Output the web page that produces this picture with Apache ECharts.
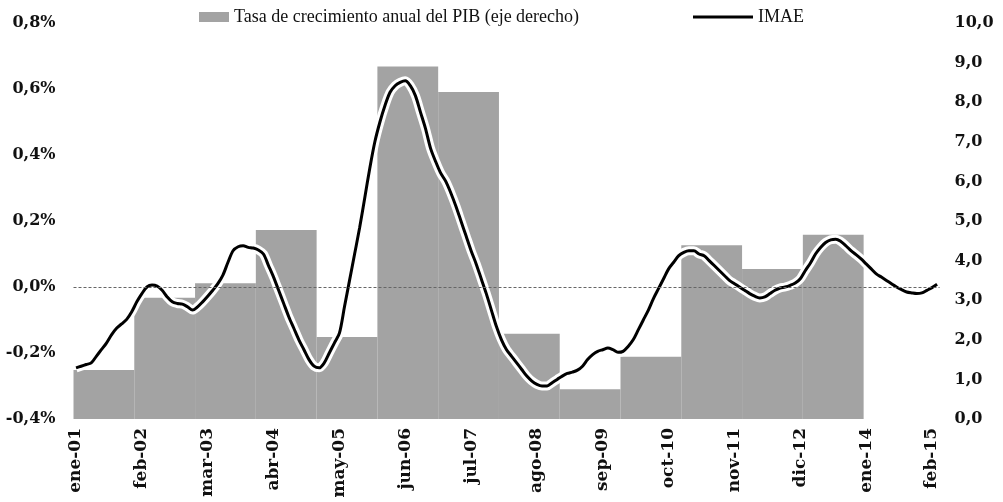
<!DOCTYPE html>
<html>
<head>
<meta charset="utf-8">
<script src="https://cdn.jsdelivr.net/npm/echarts@6/dist/echarts.min.js"></script>
<style>
html,body{margin:0;padding:0;background:#fff;}
#chart{width:1003px;height:502px;}
</style>
</head>
<body>
<div id="chart"></div>
<script>
// ---- data ----
const monthNames = ['ene','feb','mar','abr','may','jun','jul','ago','sep','oct','nov','dic'];
const firstYear = 2001;
const lastYear = 2015;
const lastMonthOfLastYear = 3; // mar-15

// IMAE (left axis, %), monthly from ene-01 to mar-15
const imae = [
 -0.245,-0.240,-0.235,-0.230,-0.210,-0.190,-0.170,-0.145,-0.125,-0.112,-0.098,-0.075,
 -0.045,-0.020, 0.000, 0.006, 0.003,-0.010,-0.030,-0.045,-0.050,-0.052,-0.060,-0.070,
 -0.060,-0.045,-0.028,-0.010, 0.010, 0.036, 0.075, 0.110, 0.122, 0.125, 0.120, 0.118,
  0.112, 0.100, 0.065, 0.030,-0.010,-0.050,-0.090,-0.125,-0.160,-0.190,-0.220,-0.240,
 -0.245,-0.230,-0.200,-0.170,-0.140,-0.060, 0.020, 0.100, 0.180, 0.270, 0.360, 0.440,
  0.500, 0.550, 0.590, 0.610, 0.620, 0.625, 0.610, 0.580, 0.530, 0.480, 0.420, 0.380,
  0.345, 0.320, 0.285, 0.245, 0.200, 0.155, 0.110, 0.070, 0.025,-0.020,-0.070,-0.120,
 -0.160,-0.190,-0.210,-0.230,-0.250,-0.270,-0.285,-0.295,-0.300,-0.300,-0.290,-0.280,
 -0.270,-0.262,-0.258,-0.252,-0.240,-0.220,-0.205,-0.195,-0.190,-0.185,-0.190,-0.198,
 -0.195,-0.180,-0.160,-0.130,-0.100,-0.070,-0.035,-0.005, 0.025, 0.055, 0.075, 0.095,
  0.105, 0.110, 0.110, 0.100, 0.095, 0.080, 0.065, 0.050, 0.035, 0.020, 0.010, 0.000,
 -0.010,-0.020,-0.028,-0.033,-0.030,-0.020,-0.010,-0.003, 0.000, 0.005, 0.012, 0.025,
  0.050, 0.073, 0.100, 0.120, 0.135, 0.143, 0.145, 0.138, 0.125, 0.110, 0.098, 0.085,
  0.070, 0.055, 0.040, 0.030, 0.020, 0.010, 0.000,-0.008,-0.015,-0.018,-0.020,-0.018,
 -0.010,-0.002, 0.008
];

// Annual GDP growth (right axis), one bar per year
const gdpYears  = [2001,2002,2003,2004,2005,2006,2007,2008,2009,2010,2011,2012,2013];
const gdpGrowth = [1.24,3.06,3.43,4.77,2.07,8.90,8.26,2.15,0.75,1.57,4.39,3.79,4.65];

const leftTicks  = {min:-0.4, max:0.8, interval:0.2};
const rightTicks = {min:0, max:10, interval:1};

const barName  = 'Tasa de crecimiento anual del PIB (eje derecho)';
const lineName = 'IMAE';

// ---- build tables ----
const categories = [];
for (let y = firstYear; y <= lastYear; y++) {
  const lastM = (y === lastYear) ? lastMonthOfLastYear : 12;
  for (let m = 0; m < lastM; m++) {
    categories.push(monthNames[m] + '-' + String(y % 100).padStart(2,'0'));
  }
}
const barData = gdpYears.map((y, k) => {
  const start = (y - firstYear) * 12;
  return [start, start + 11, gdpGrowth[k]];
});

const axisFont = {fontFamily:'DejaVu Serif', fontWeight:'bold', fontSize:16, color:'#111'};

function fmtLeft(v){
  if (Math.abs(v) < 1e-9) v = 0;
  return v.toFixed(1).replace('.', ',') + '%';
}
function fmtRight(v){
  return v.toFixed(1).replace('.', ',');
}

const barColor = '#a3a3a3';

const chart = echarts.init(document.getElementById('chart'), null, {renderer:'canvas'});
chart.setOption({
  animation:false,
  backgroundColor:'#ffffff',
  grid:{left:73.5, right:63.4, top:23, bottom:83, containLabel:false},
  legend:[
    {
      data:[{name:barName, icon:'rect'}],
      left:194, top:3,
      itemWidth:30, itemHeight:10,
      textStyle:{fontFamily:'Liberation Serif', fontSize:18, color:'#111'}
    },
    {
      data:[{name:lineName, icon:'rect', itemStyle:{color:'#000'}}],
      left:688, top:3,
      itemWidth:60, itemHeight:3,
      textStyle:{fontFamily:'Liberation Serif', fontSize:18, color:'#111'}
    }
  ],
  xAxis:{
    type:'category',
    data:categories,
    boundaryGap:true,
    axisLine:{show:false},
    axisTick:{show:false},
    splitLine:{show:false},
    axisLabel:Object.assign({interval:12, rotate:90, margin:9}, axisFont, {fontSize:17})
  },
  yAxis:[
    {
      type:'value', position:'left',
      min:leftTicks.min, max:leftTicks.max, interval:leftTicks.interval,
      axisLine:{show:false}, axisTick:{show:false}, splitLine:{show:false},
      axisLabel:Object.assign({margin:18, formatter:fmtLeft}, axisFont)
    },
    {
      type:'value', position:'right',
      min:rightTicks.min, max:rightTicks.max, interval:rightTicks.interval,
      axisLine:{show:false}, axisTick:{show:false}, splitLine:{show:false},
      axisLabel:Object.assign({margin:15, formatter:fmtRight}, axisFont)
    }
  ],
  series:[
    {
      name:barName,
      type:'custom',
      xAxisIndex:0, yAxisIndex:1,
      itemStyle:{color:barColor},
      encode:{x:[0,1], y:2},
      data:barData,
      z:1,
      renderItem:function(params, api){
        const band = api.size([1,0])[0];
        const p0 = api.coord([api.value(0), api.value(2)]);
        const p1 = api.coord([api.value(1), 0]);
        const x0 = p0[0] - band/2;
        const x1 = p1[0] + band/2;
        return {
          type:'rect',
          shape:{x:x0, y:p0[1], width:x1 - x0, height:p1[1] - p0[1]},
          style:{fill:barColor}
        };
      }
    },
    {
      name:'halo',
      type:'line',
      xAxisIndex:0, yAxisIndex:0,
      data:imae,
      symbol:'none',
      smooth:0.3,
      silent:true,
      lineStyle:{color:'#ffffff', width:9},
      z:2
    },
    {
      name:lineName,
      type:'line',
      xAxisIndex:0, yAxisIndex:0,
      data:imae,
      symbol:'none',
      smooth:0.3,
      lineStyle:{color:'#000000', width:3},
      itemStyle:{color:'#000000'},
      z:3,
      markLine:{
        silent:true,
        symbol:'none',
        label:{show:false},
        lineStyle:{color:'#666', width:1, type:[3,2]},
        data:[{yAxis:0}]
      }
    }
  ]
});
</script>
</body>
</html>
